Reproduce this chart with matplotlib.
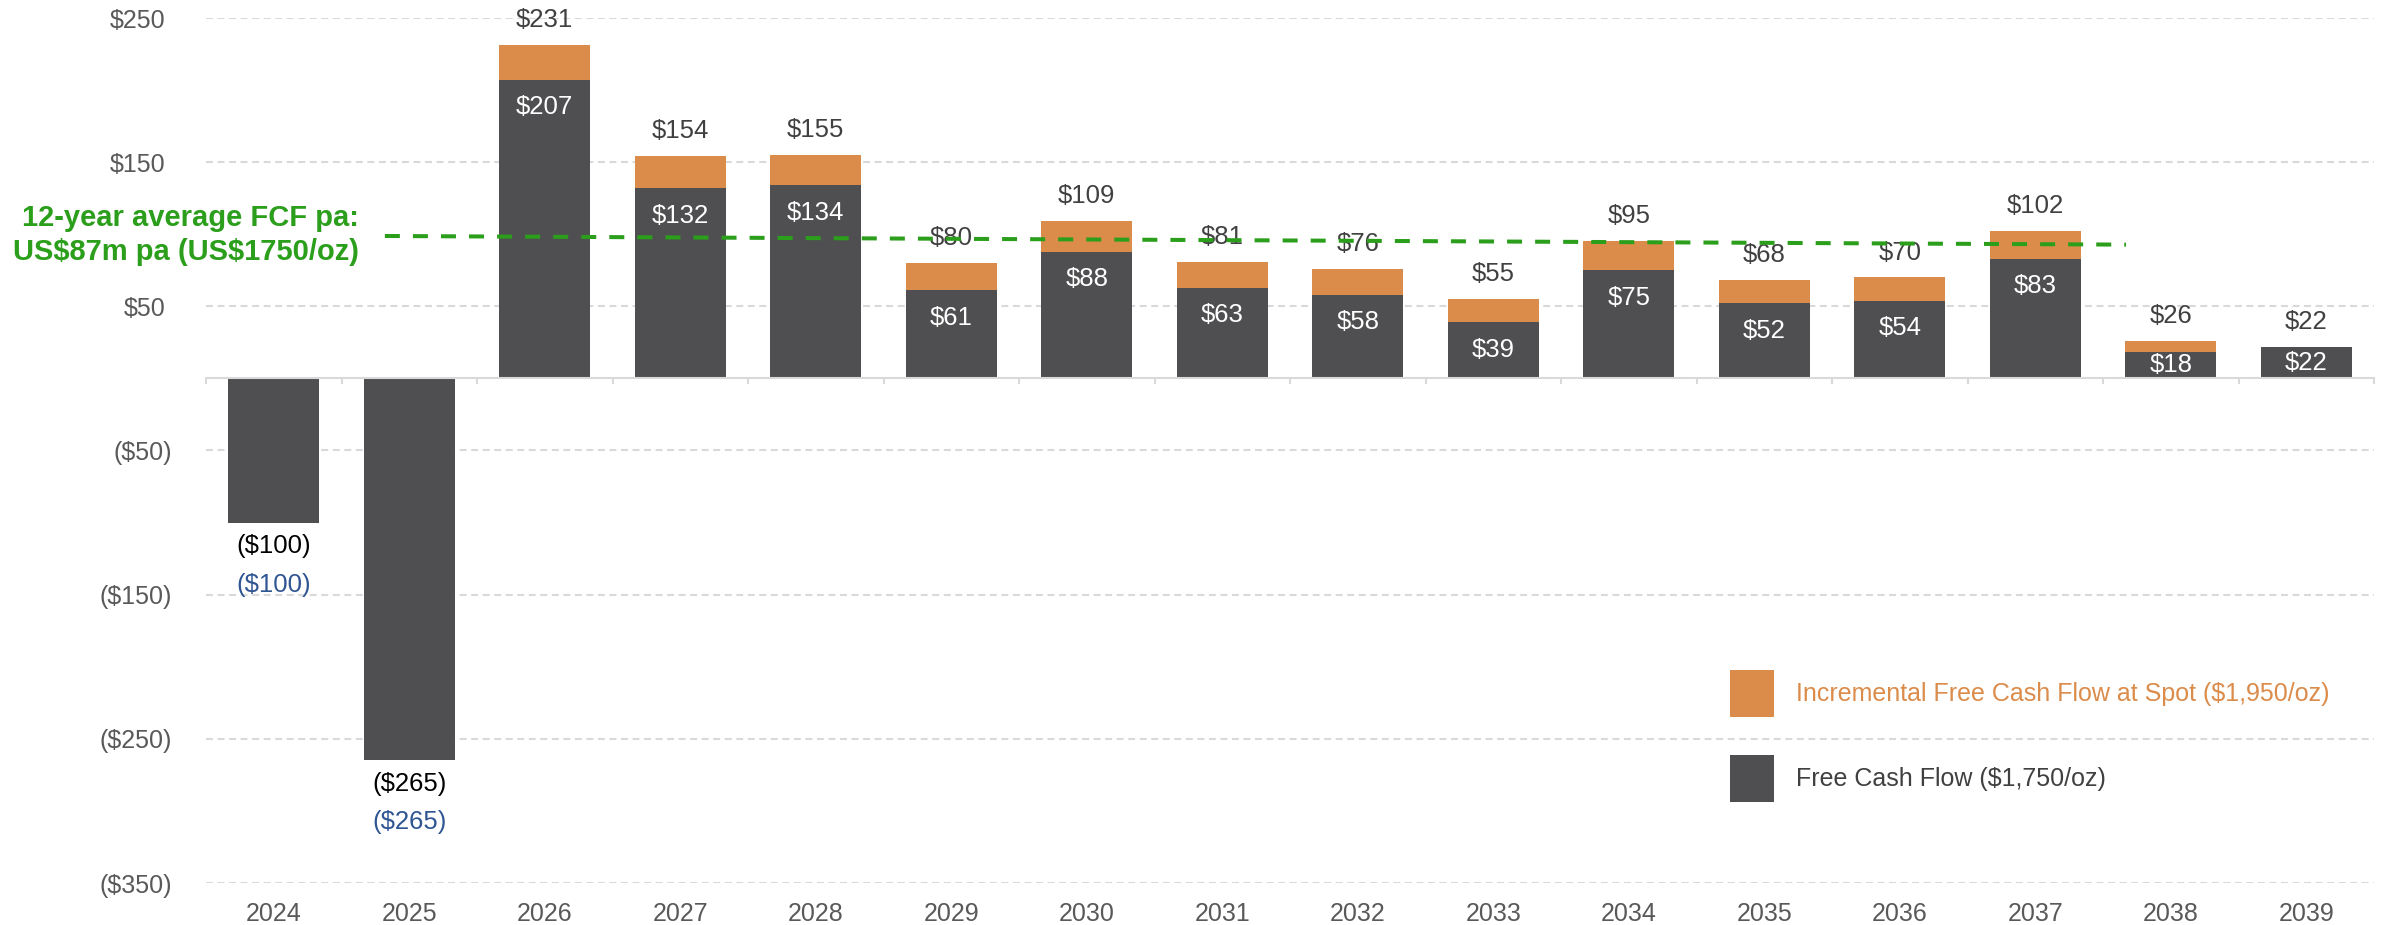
import matplotlib
matplotlib.use("Agg")
import matplotlib.pyplot as plt
from matplotlib.patches import Patch
from matplotlib.transforms import ScaledTranslation
import numpy as np

plt.rcParams['font.family'] = ['Liberation Sans', 'DejaVu Sans']
plt.rcParams['lines.scale_dashes'] = False

# ---- data ----
years = ["2024", "2025", "2026", "2027", "2028", "2029", "2030", "2031",
         "2032", "2033", "2034", "2035", "2036", "2037", "2038", "2039"]
fcf_1750 = [-100, -265, 207, 132, 134, 61, 88, 63, 58, 39, 75, 52, 54, 83, 18, 22]
total_spot = [-100, -265, 231, 154, 155, 80, 109, 81, 76, 55, 95, 68, 70, 102, 26, 22]
incremental = [max(t - f, 0) if f > 0 else 0 for t, f in zip(total_spot, fcf_1750)]
ytick_vals = [250, 150, 50, -50, -150, -250, -350]
ytick_labels = ["$250", "$150", "$50", "($50)", "($150)", "($250)", "($350)"]
avg_line_x = [0.82, 13.67]
avg_line_y = [98.8, 92.8]
avg_text = "12-year average FCF pa:\nUS\\$87m pa (US\\$1750/oz)"
legend_labels = ["Incremental Free Cash Flow at Spot ($1,950/oz)", "Free Cash Flow ($1,750/oz)"]

# ---- style ----
GREY = "#4f4f51"
ORANGE = "#db8c4b"
GRID = "#d9d9d9"
TICKTXT = "#595959"
VALTXT = "#404040"
BLUE = "#2f5592"
GREEN = "#2b9e1b"
FS = 18
VFS = 18.5


def fmt(v):
    return f"(${abs(v):,.0f})" if v < 0 else f"${v:,.0f}"


fig = plt.figure(figsize=(23.84, 9.25), dpi=100)
ax = fig.add_axes([206 / 2384, 42 / 925, 2168 / 2384, 865 / 925])

x = np.arange(len(years))
ax.bar(x, fcf_1750, width=0.67, color=GREY, zorder=3)
ax.bar(x, incremental, bottom=[max(f, 0) for f in fcf_1750], width=0.67, color=ORANGE, zorder=3)

ax.set_xlim(-0.5, len(years) - 0.5)
ax.set_ylim(-350, 250)

# y axis
ax.set_yticks(ytick_vals)
ax.set_yticklabels(ytick_labels, fontsize=FS, color=TICKTXT)
ax.tick_params(axis='y', length=0, pad=29)
for lab in ax.get_yticklabels():
    if lab.get_text().startswith('('):
        lab.set_transform(lab.get_transform() + ScaledTranslation(6 / 100, 0, fig.dpi_scale_trans))
ax.yaxis.grid(True, color=GRID, linewidth=1.5, linestyle=(0, (5, 3.3)), zorder=0)
ax.set_axisbelow(True)
for s in ['left', 'right', 'top']:
    ax.spines[s].set_visible(False)

# x axis at zero with boundary ticks
ax.spines['bottom'].set_position(('data', 0))
ax.spines['bottom'].set_color(GRID)
ax.spines['bottom'].set_linewidth(1.5)
ax.spines['bottom'].set_zorder(4)
ax.set_xticks(x)
ax.set_xticklabels([])
ax.set_xticks(np.arange(len(years) + 1) - 0.5, minor=True)
ax.tick_params(axis='x', which='major', length=0)
ax.tick_params(axis='x', which='minor', length=4.3, width=1.5, color=GRID, direction='out')

sec = ax.secondary_xaxis(0)
sec.set_xticks(x)
sec.set_xticklabels(years, fontsize=FS, color=TICKTXT)
sec.tick_params(length=0, pad=13.5)
sec.spines['bottom'].set_visible(False)

# value labels
for i, (f, t) in enumerate(zip(fcf_1750, total_spot)):
    if f < 0:
        ax.annotate(fmt(f), (i, f), xytext=(0, -17), textcoords='offset points',
                    ha='center', va='center', fontsize=VFS, color='black', zorder=5)
        ax.annotate(fmt(t), (i, f), xytext=(0, -44.6), textcoords='offset points',
                    ha='center', va='center', fontsize=VFS, color=BLUE, zorder=5)
    else:
        ax.annotate(fmt(t), (i, t), xytext=(0, 18), textcoords='offset points',
                    ha='center', va='center', fontsize=VFS, color=VALTXT, zorder=5)
        yin = max(f - 19, f * 0.5)
        ax.text(i, yin, fmt(f), ha='center', va='center', fontsize=VFS, color='white', zorder=5)

# average line
ax.plot(avg_line_x, avg_line_y, color=GREEN, linewidth=2.9, linestyle=(0, (10.8, 9.4)),
        zorder=6, solid_capstyle='butt', dash_capstyle='butt')
fig.text(359 / 2384, 1 - 235 / 925, avg_text, ha='right', va='center', fontsize=21,
         fontweight='bold', color=GREEN, linespacing=1.28)

# legend
handles = [Patch(facecolor=ORANGE), Patch(facecolor=GREY)]
leg = ax.legend(handles, legend_labels, loc='upper left',
                bbox_to_anchor=(1730 / 2384, 1 - 670 / 925), bbox_transform=fig.transFigure,
                frameon=False, fontsize=FS, handlelength=1.76, handleheight=2.5,
                handletextpad=0.9, labelspacing=1.52, borderpad=0, borderaxespad=0)
for txt, c in zip(leg.get_texts(), [ORANGE, VALTXT]):
    txt.set_color(c)

fig.savefig("out.png", dpi=100)
